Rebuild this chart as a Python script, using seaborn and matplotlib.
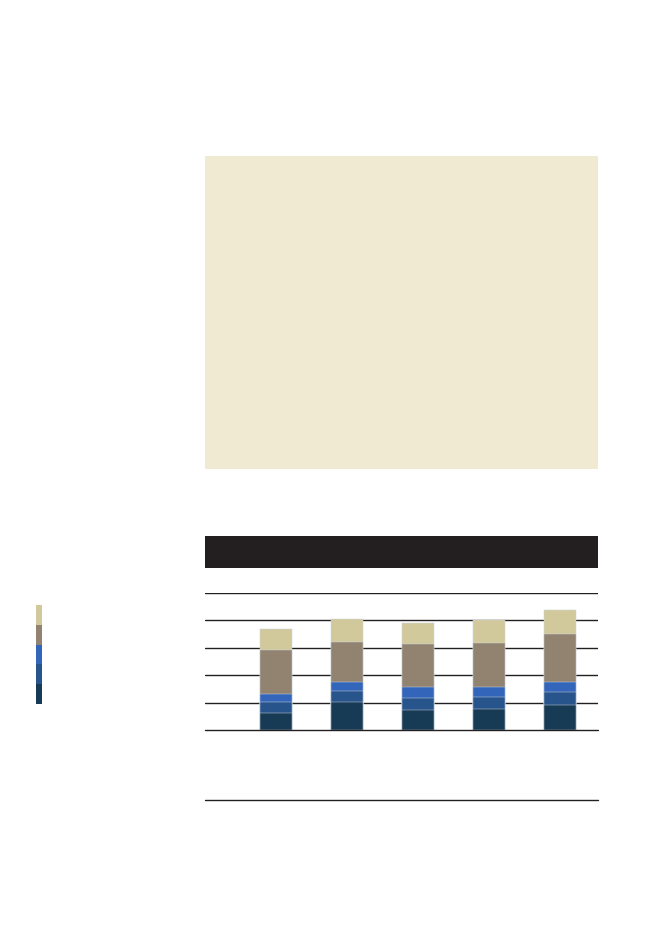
import numpy as np
import pandas as pd
import matplotlib
matplotlib.use("Agg")
import matplotlib.pyplot as plt
import seaborn as sns
from matplotlib.patches import Rectangle
from matplotlib.lines import Line2D

# Categories and stacked series (bottom to top)
cats = ["1", "2", "3", "4", "5"]
dark = [0.63, 1.02, 0.74, 0.77, 0.92]
mid = [0.38, 0.40, 0.44, 0.45, 0.47]
blue = [0.32, 0.34, 0.38, 0.35, 0.37]
brown = [1.59, 1.45, 1.58, 1.62, 1.74]
beige = [0.75, 0.83, 0.78, 0.82, 0.88]

series = [dark, mid, blue, brown, beige]
colors = ["#173a55", "#27548a", "#3366bb", "#918370", "#d1c99c"]

sns.set_theme(style="white")
plt.rcParams['font.family'] = ['DejaVu Sans']

fig = plt.figure(figsize=(6.61, 9.33), dpi=100)
W, H = 661, 933

def fx(px):
    return px / W

def fy(py):
    return 1 - py / H

# Beige panel and black header band
fig.patches.append(Rectangle((fx(205), fy(469)), fx(598) - fx(205), fy(156) - fy(469),
                             transform=fig.transFigure, facecolor="#f0ead2", edgecolor="none", zorder=0))
fig.patches.append(Rectangle((fx(205), fy(568)), fx(598) - fx(205), fy(536) - fy(568),
                             transform=fig.transFigure, facecolor="#231f20", edgecolor="none", zorder=0))
fig.add_artist(Line2D([fx(205), fx(598)], [fy(800), fy(800)], transform=fig.transFigure,
                      color="#231f20", lw=1.0))

# Main chart
ax = fig.add_axes([fx(205), fy(730), fx(598) - fx(205), fy(593) - fy(730)])
cum = np.cumsum(np.array(series), axis=0)
df = pd.DataFrame({"cat": cats})
for i in range(len(series) - 1, -1, -1):
    df["val"] = cum[i]
    sns.barplot(data=df, x="cat", y="val", color=colors[i], width=0.45, ax=ax,
                edgecolor="#c9d2dc", linewidth=0.35, saturation=1, zorder=2)

ax.set_ylim(0, 5)
ax.set_xlim(-1, 4.54)
for y in range(1, 6):
    ax.axhline(y, color="#231f20", lw=1.0, zorder=1)
ax.axhline(0, color="#231f20", lw=1.0, zorder=3, clip_on=False)
ax.set_xticks([])
ax.set_yticks([])
ax.set_xlabel("")
ax.set_ylabel("")
ax.set_facecolor("none")
for s in ax.spines.values():
    s.set_visible(False)

# Legend swatches (top to bottom: beige ... dark)
for k, c in enumerate(colors[::-1]):
    top = 605 + k * 19.8
    fig.patches.append(Rectangle((fx(36), fy(top + 19.8)), fx(42) - fx(36), fy(top) - fy(top + 19.8),
                                 transform=fig.transFigure, facecolor=c, edgecolor="none"))

fig.savefig("out.png", dpi=100)
